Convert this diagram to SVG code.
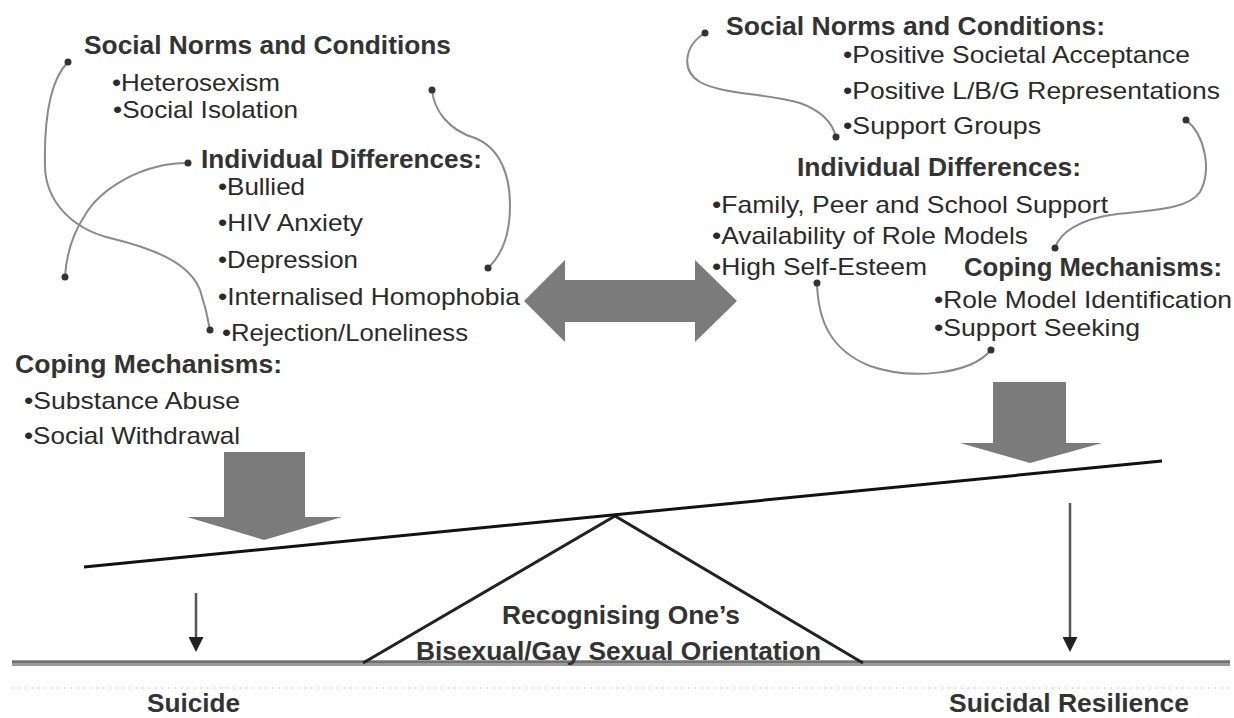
<svg xmlns="http://www.w3.org/2000/svg" width="1234" height="718" viewBox="0 0 1234 718">
<defs>
<style>
text{font-family:"Liberation Sans",Arial,sans-serif;fill:#2a2a2a}
.b{font-weight:bold;font-size:25px;fill:#333}
.r{font-size:24px}
.curve{fill:none;stroke:#8a8a8a;stroke-width:2}
.dot{fill:#333}
.block{fill:#7b7b7b}
.thin{stroke:#555;stroke-width:2.5;fill:none}
</style>
<marker id="ah" viewBox="0 0 10 10" refX="2" refY="5" markerWidth="7" markerHeight="6" orient="auto" markerUnits="strokeWidth">
<path d="M0,0 L10,5 L0,10 Z" fill="#222"/>
</marker>
</defs>
<rect width="1234" height="718" fill="#fff"/>

<g id="scale">
<line x1="12" y1="688" x2="1230" y2="688" stroke="#ccc" stroke-width="1.5" stroke-dasharray="1.5,5"/>
<rect x="12" y="660" width="1218" height="6" fill="#9a9a9a"/>
<line x1="12" y1="662" x2="1230" y2="662" stroke="#666" stroke-width="1.5"/>
<polyline points="363,663 615,516 863,663" fill="none" stroke="#222" stroke-width="3"/>
<line x1="84" y1="567" x2="1162" y2="461" stroke="#111" stroke-width="3"/>
</g>

<g id="connectors">
<path class="curve" d="M68,62 C50,80 44,120 45,167 C46,200 70,228 110,238 C160,250 190,265 200,290 C205,305 208,318 210,330"/>
<path class="curve" d="M188,163 C140,163 100,190 85,215 C72,235 66,258 65,277"/>
<path class="curve" d="M432,90 C434,110 448,130 475,138 C500,148 510,175 510,205 C510,235 502,255 488,268"/>
<path class="curve" d="M705,33 C685,45 680,70 700,82 C720,94 770,94 800,103 C825,112 833,125 836,137"/>
<path class="curve" d="M1186,120 C1205,135 1212,170 1200,192 C1188,210 1150,210 1110,215 C1080,220 1060,232 1055,248"/>
<path class="curve" d="M817,283 C818,320 830,350 870,366 C910,380 970,375 991,350"/>
<g>
<circle class="dot" cx="68" cy="62" r="3.5"/><circle class="dot" cx="210" cy="330" r="3.5"/>
<circle class="dot" cx="188" cy="163" r="3.5"/><circle class="dot" cx="65" cy="277" r="3.5"/>
<circle class="dot" cx="432" cy="90" r="3.5"/><circle class="dot" cx="488" cy="268" r="3.5"/>
<circle class="dot" cx="705" cy="33" r="3.5"/><circle class="dot" cx="836" cy="137" r="3.5"/>
<circle class="dot" cx="1186" cy="120" r="3.5"/><circle class="dot" cx="1055" cy="248" r="3.5"/>
<circle class="dot" cx="817" cy="283" r="3.5"/><circle class="dot" cx="991" cy="350" r="3.5"/>
</g>
<polygon id="double-arrow" class="block" points="524,301 565,260 565,280 695,280 695,260 737,301 695,342 695,322 565,322 565,342"/>
<polygon id="left-weight" class="block" points="224,452 305,452 305,517 342,517 264,540 187,517 224,517"/>
<polygon id="right-weight" class="block" points="993,382 1066,382 1066,443 1102,443 1030,463 960,443 993,443"/>
<line class="thin" x1="196" y1="593" x2="196" y2="640" marker-end="url(#ah)"/>
<line class="thin" x1="1070" y1="503" x2="1070" y2="640" marker-end="url(#ah)"/>
</g>

<g id="left-social-norms">
<text class="b" x="84" y="54" textLength="367" lengthAdjust="spacingAndGlyphs">Social Norms and Conditions</text>
<text class="r" x="112" y="91" textLength="168" lengthAdjust="spacingAndGlyphs">•Heterosexism</text>
<text class="r" x="113" y="118" textLength="185" lengthAdjust="spacingAndGlyphs">•Social Isolation</text>
</g>
<g id="left-individual-differences">
<text class="b" x="201" y="168" textLength="281" lengthAdjust="spacingAndGlyphs">Individual Differences:</text>
<text class="r" x="218" y="195" textLength="87" lengthAdjust="spacingAndGlyphs">•Bullied</text>
<text class="r" x="218" y="231" textLength="145" lengthAdjust="spacingAndGlyphs">•HIV Anxiety</text>
<text class="r" x="218" y="268" textLength="140" lengthAdjust="spacingAndGlyphs">•Depression</text>
<text class="r" x="218" y="305" textLength="302" lengthAdjust="spacingAndGlyphs">•Internalised Homophobia</text>
<text class="r" x="222" y="341" textLength="246" lengthAdjust="spacingAndGlyphs">•Rejection/Loneliness</text>
</g>
<g id="left-coping">
<text class="b" x="15" y="373" textLength="267" lengthAdjust="spacingAndGlyphs">Coping Mechanisms:</text>
<text class="r" x="24" y="409" textLength="216" lengthAdjust="spacingAndGlyphs">•Substance Abuse</text>
<text class="r" x="24" y="444" textLength="216" lengthAdjust="spacingAndGlyphs">•Social Withdrawal</text>
</g>

<g id="right-social-norms">
<text class="b" x="726" y="35" textLength="379" lengthAdjust="spacingAndGlyphs">Social Norms and Conditions:</text>
<text class="r" x="843" y="63" textLength="347" lengthAdjust="spacingAndGlyphs">•Positive Societal Acceptance</text>
<text class="r" x="843" y="99" textLength="377" lengthAdjust="spacingAndGlyphs">•Positive L/B/G Representations</text>
<text class="r" x="843" y="134" textLength="198" lengthAdjust="spacingAndGlyphs">•Support Groups</text>
</g>
<g id="right-individual-differences">
<text class="b" x="797" y="176" textLength="284" lengthAdjust="spacingAndGlyphs">Individual Differences:</text>
<text class="r" x="712" y="213" textLength="396" lengthAdjust="spacingAndGlyphs">•Family, Peer and School Support</text>
<text class="r" x="712" y="244" textLength="316" lengthAdjust="spacingAndGlyphs">•Availability of Role Models</text>
<text class="r" x="712" y="275" textLength="215" lengthAdjust="spacingAndGlyphs">•High Self-Esteem</text>
</g>
<g id="right-coping">
<text class="b" x="964" y="276" textLength="258" lengthAdjust="spacingAndGlyphs">Coping Mechanisms:</text>
<text class="r" x="934" y="308" textLength="298" lengthAdjust="spacingAndGlyphs">•Role Model Identification</text>
<text class="r" x="934" y="336" textLength="206" lengthAdjust="spacingAndGlyphs">•Support Seeking</text>
</g>

<g id="fulcrum-label">
<text class="b" x="502" y="624" textLength="238" lengthAdjust="spacingAndGlyphs">Recognising One’s</text>
<text class="b" x="416" y="660" textLength="405" lengthAdjust="spacingAndGlyphs">Bisexual/Gay Sexual Orientation</text>
</g>
<g id="suicide">
<text class="b" x="147" y="712" textLength="93" lengthAdjust="spacingAndGlyphs">Suicide</text>
</g>
<g id="suicidal-resilience">
<text class="b" x="949" y="712" textLength="240" lengthAdjust="spacingAndGlyphs">Suicidal Resilience</text>
</g>
</svg>
